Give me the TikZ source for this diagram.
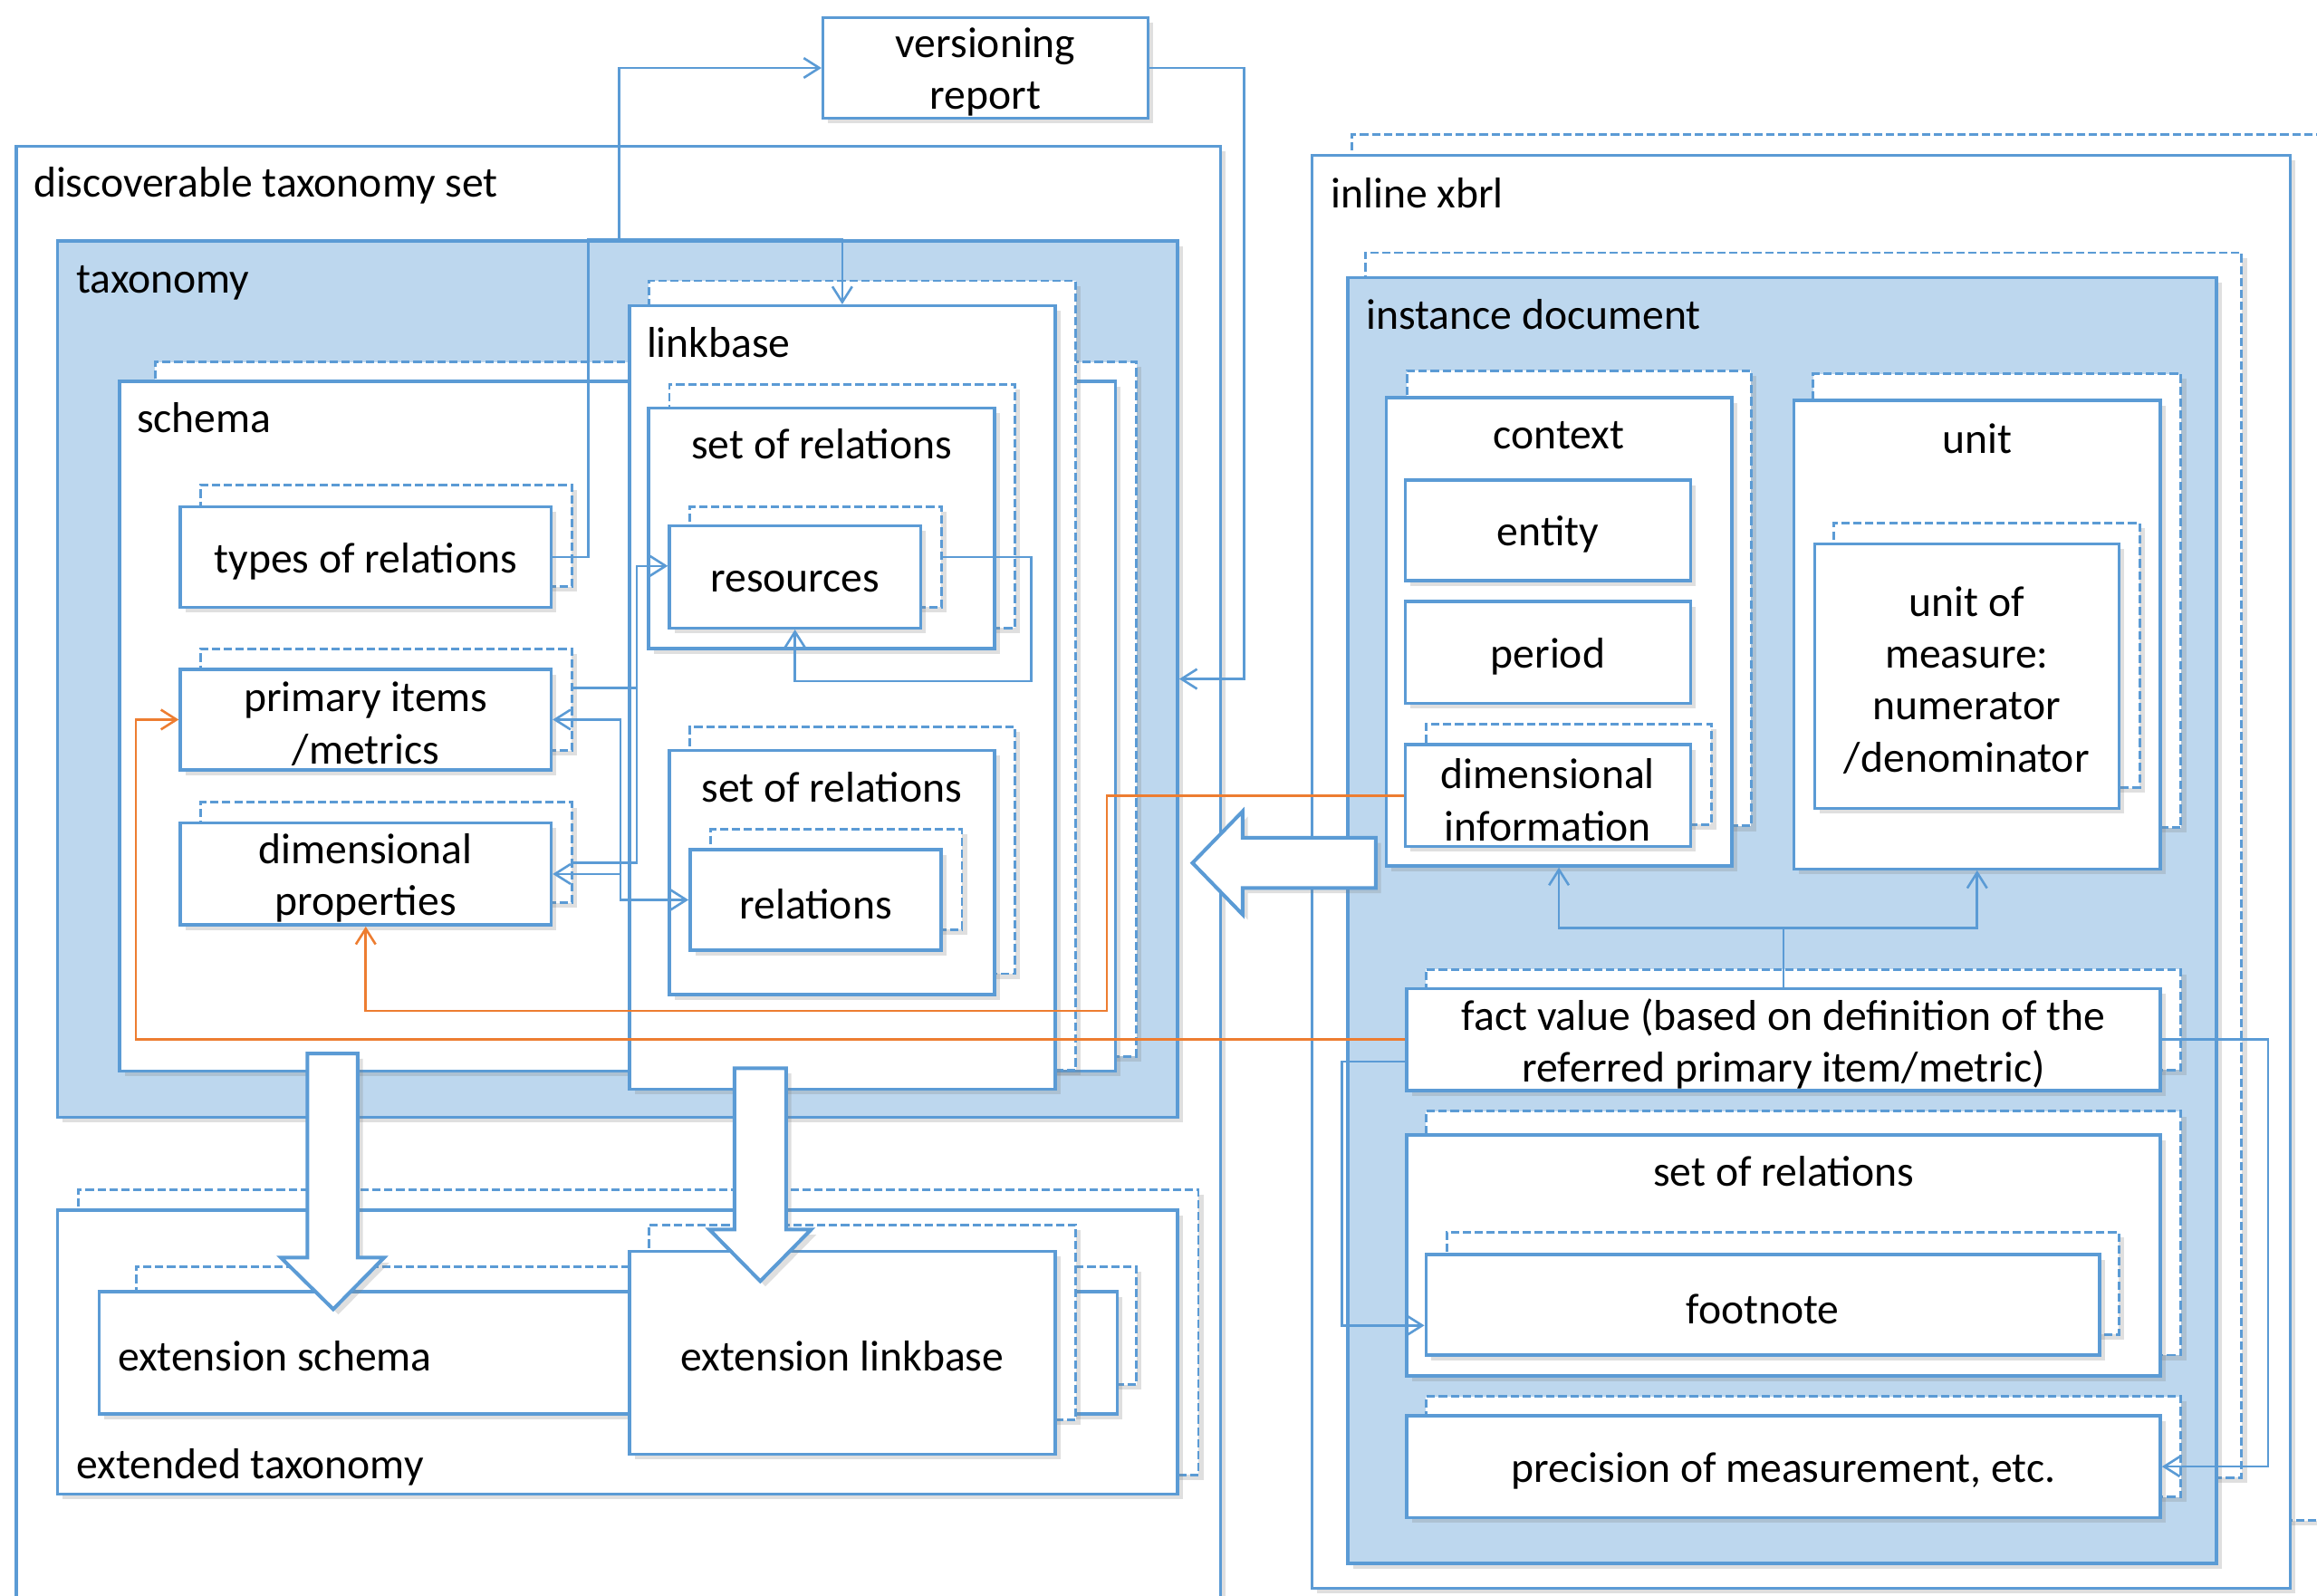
\documentclass[tikz,border=0pt]{standalone}
\usepackage{fontspec}
\setmainfont{Carlito}
\usetikzlibrary{fit,calc,shadows,arrows.meta}

\definecolor{xblue}{RGB}{91,155,213}
\definecolor{xfill}{RGB}{189,215,238}
\definecolor{xorange}{RGB}{237,125,49}

\tikzset{
  box/.style={draw=xblue, fill=white, line width=0.6pt, inner sep=0pt,
    drop shadow={shadow xshift=1pt, shadow yshift=-1pt, opacity=0.25}},
  backbox/.style={box, dash pattern=on 1.6pt off 0.7pt, line width=0.5pt},
  bluebox/.style={box, fill=xfill},
  txt/.style={label={[align=center, inner sep=0pt, yshift=-0.8pt]center:#1}},
  title/.style={anchor=west, inner sep=0pt, text height=0.72em, text depth=0.22em, yshift=-0.5pt},
  ctitle/.style={title, anchor=center},
  conn/.style={draw=xblue, line width=0.45pt},
  oconn/.style={draw=xorange, line width=0.45pt},
  bigarrow/.style={draw=xblue, fill=white, line width=0.7pt, line join=miter,
    drop shadow={shadow xshift=1pt, shadow yshift=-1pt, opacity=0.25}}
}

\begin{document}
\begin{tikzpicture}[x=0.01cm, y=-0.01cm, font=\fontsize{8.3}{10}\selectfont,
  >={Straight Barb[length=3pt,width=3.8pt]}]
\useasboundingbox (0,0) rectangle (1568,1080);

% outer frames
\node[box] (dts) [fit={(11,99) (826,1095)}] {};
\node[box, txt={versioning\\report}] (version) [fit={(557,12) (777,80)}] {};
\node[backbox] (ixbrl-b) [fit={(915,91) (1600,1029)}] {};
\node[box] (ixbrl) [fit={(888,105) (1550,1075)}] {};
\node[title] at (22,123) {discoverable taxonomy set};
\node[title] at (900,130) {inline xbrl};

% taxonomy
\node[bluebox] (taxonomy) [fit={(39,163) (797,756)}] {};
\node[title] at (51,188) {taxonomy};

\node[backbox] (schema-b) [fit={(105,245) (769,715)}] {};
\node[box] (schema) [fit={(81,258) (755,725)}] {};
\node[title] at (92,282) {schema};
\node[backbox] (types-b) [fit={(136,328) (387,397)}] {};
\node[box, txt={types of relations}] (types) [fit={(122,343) (373,411)}] {};
\node[backbox] (prim-b) [fit={(136,439) (387,508)}] {};
\node[box, txt={primary items\\/metrics}] (prim) [fit={(122,453) (373,521)}] {};
\node[backbox] (dimprop-b) [fit={(136,543) (387,611)}] {};
\node[box, txt={dimensional\\properties}] (dimprop) [fit={(122,557) (373,626)}] {};

\node[backbox] (linkbase-b) [fit={(439,190) (728,724)}] {};
\node[box] (linkbase) [fit={(426,207) (714,737)}] {};
\node[title] at (437,231) {linkbase};
\node[backbox] (sor1-b) [fit={(453,260) (687,425)}] {};
\node[box] (sor1) [fit={(439,276) (673,439)}] {};
\node[ctitle] at (556,300) {set of relations};
\node[backbox] (res-b) [fit={(467,343) (637,411)}] {};
\node[box, txt={resources}] (res) [fit={(453,356) (623,425)}] {};
\node[backbox] (sor2-b) [fit={(467,492) (687,659)}] {};
\node[box] (sor2) [fit={(453,508) (673,673)}] {};
\node[ctitle] at (563,532) {set of relations};
\node[backbox] (rel-b) [fit={(481,561) (651,629)}] {};
\node[box, txt={relations}] (rel) [fit={(467,575) (637,643)}] {};

% extended taxonomy
\node[backbox] (extax-b) [fit={(53,805) (811,998)}] {};
\node[box] (extax) [fit={(39,819) (797,1011)}] {};
\node[title] at (51,990) {extended taxonomy};
\node[backbox] (exschema-b) [fit={(92,857) (769,937)}] {};
\node[box] (exschema) [fit={(67,874) (756,957)}] {};
\node[title] at (79,917) {extension schema};
\node[backbox] (exlink-b) [fit={(439,829) (728,961)}] {};
\node[box] (exlink) [fit={(426,847) (714,984)}] {};
\node[ctitle] at (570,917) {extension linkbase};

% instance document
\node[backbox] (instdoc-b) [fit={(924,171) (1517,1000)}] {};
\node[bluebox] (instdoc) [fit={(912,188) (1500,1058)}] {};
\node[title] at (924,212) {instance document};
\node[backbox] (context-b) [fit={(952,251) (1185,559)}] {};
\node[box] (context) [fit={(938,269) (1172,586)}] {};
\node[ctitle] at (1055,293) {context};
\node[box, txt={entity}] (entity) [fit={(951,325) (1144,393)}] {};
\node[box, txt={period}] (period) [fit={(951,407) (1144,476)}] {};
\node[backbox] (diminfo-b) [fit={(965,490) (1158,558)}] {};
\node[box, txt={dimensional\\information}] (diminfo) [fit={(951,504) (1144,573)}] {};
\node[backbox] (unit-b) [fit={(1227,253) (1476,560)}] {};
\node[box] (unit) [fit={(1214,271) (1462,588)}] {};
\node[ctitle] at (1338,296) {unit};
\node[backbox] (uom-b) [fit={(1241,354) (1448,533)}] {};
\node[box, txt={unit of\\measure:\\numerator\\/denominator}] (uom) [fit={(1228,368) (1434,547)}] {};
\node[backbox] (fact-b) [fit={(965,656) (1476,724)}] {};
\node[box, txt={fact value (based on definition of the\\referred primary item/metric)}] (fact) [fit={(952,669) (1462,738)}] {};
\node[backbox] (isor-b) [fit={(965,752) (1476,917)}] {};
\node[box] (isor) [fit={(952,768) (1462,931)}] {};
\node[ctitle] at (1207,792) {set of relations};
\node[backbox] (foot-b) [fit={(979,834) (1434,903)}] {};
\node[box, txt={footnote}] (foot) [fit={(965,849) (1421,917)}] {};
\node[backbox] (prec-b) [fit={(965,945) (1476,1013)}] {};
\node[box, txt={precision of measurement, etc.}] (prec) [fit={(952,958) (1462,1027)}] {};

% connectors
\coordinate (vjoint) at (419,162);
\draw[conn,->] (types.east) -| (398,162) -| (linkbase.north);
\draw[conn,->] (vjoint) |- (version.west);
\draw[conn,->] (version.east) -| ($(taxonomy.east)+(44,0)$) -- (taxonomy.east);
\draw[conn,->] (res-b.east) -| (698,461) -| (res.south);

\coordinate (rjoint) at (431,383);
\draw[conn] ($(prim-b.east)+(0,-8)$) -| (rjoint);
\draw[conn,->] ($(dimprop-b.east)+(0,7)$) -| (rjoint) -- (res.west |- rjoint);

\coordinate (sjoint) at (420,487);
\draw[conn,<->] (prim.east) -| (420,609) -- (rel.west);
\draw[conn,->] (dimprop.east -| sjoint) -- (dimprop.east);

\draw[oconn,->] (diminfo.west) -| (749,684) -| (dimprop.south);
\draw[oconn,->] (fact.west) -| (92,487) -- (prim.west);

\coordinate (fjoint) at (1207,628);
\draw[conn,->] (fact.north) -- (fjoint) -| (context.south);
\draw[conn,->] (fjoint) -| (unit.south);
\draw[conn,->] (fact.east) -| (1535,992.5) -- (prec.east);
\draw[conn,->] ($(fact.west)+(0,15)$) -| (908,897) -- ($(foot.west)+(0,14)$);

% block arrows
\draw[bigarrow] (807,584) -- (841,549) -- (841,567) -- (931,567) -- (931,601)
  -- (841,601) -- (841,619) -- cycle;
\draw[bigarrow] (208,713) -- (242,713) -- (242,851) -- (260,851) -- (225.5,886)
  -- (190,851) -- (208,851) -- cycle;
\draw[bigarrow] (497,723) -- (532,723) -- (532,832) -- (549,832) -- (514.5,867)
  -- (480,832) -- (497,832) -- cycle;

\end{tikzpicture}
\end{document}
